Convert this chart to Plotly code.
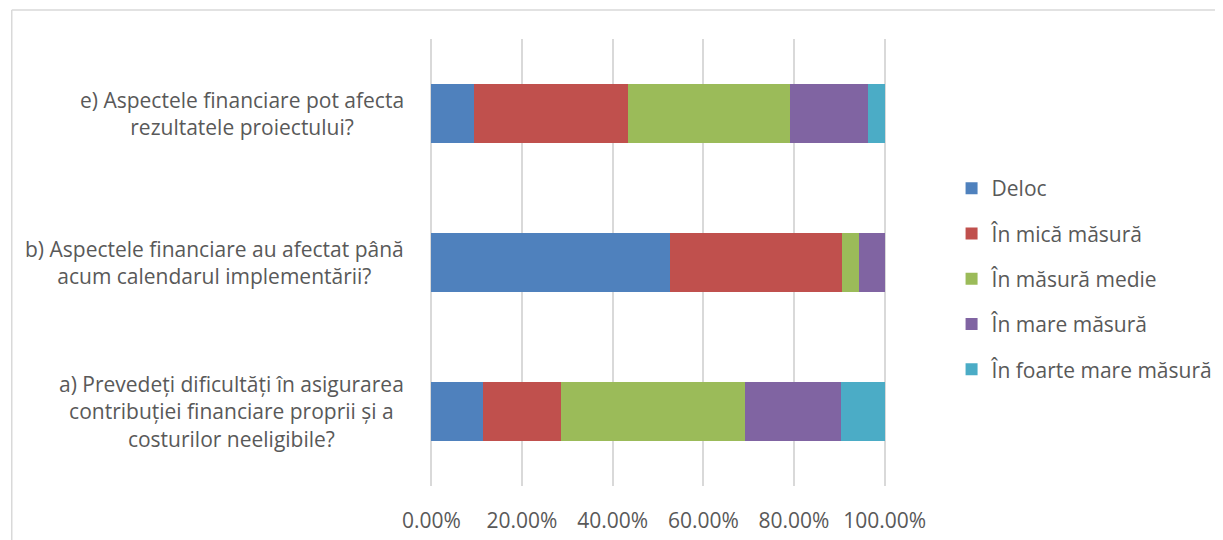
import plotly.graph_objects as go

# Data (percent of respondents)
categories = ["a", "b", "e"]
category_labels = [
    "a) Prevedeți dificultăți în asigurarea<br>contribuției financiare proprii și a<br>costurilor neeligibile?",
    "b) Aspectele financiare au afectat până<br>acum calendarul implementării?",
    "e) Aspectele financiare pot afecta<br>rezultatele proiectului?",
]
series_names = ["Deloc", "În mică măsură", "În măsură medie", "În mare măsură", "În foarte mare măsură"]
deloc = [11.3, 52.7, 9.3]
mica = [17.3, 37.8, 34.0]
medie = [40.5, 3.9, 35.9]
mare = [21.2, 5.6, 17.1]
foarte_mare = [9.7, 0.0, 3.7]
tick_values = [0, 20, 40, 60, 80, 100]
tick_labels = [f"{v:.2f}%" for v in tick_values]

colors = ["#4F81BD", "#C0504D", "#9BBB59", "#8064A2", "#4BACC6"]
all_series = [deloc, mica, medie, mare, foarte_mare]

W, H = 1223, 540
OFF = 8  # page body margin
L, R, T, B = 430 - OFF, 889 - OFF, 39 - OFF, 486 - OFF  # plot area in figure px
FONT = "Open Sans"
GREY = "#595959"


def px_x(px):
    return (px - OFF - L) / (R - L)


def px_y(py):
    return 1 - (py - OFF - T) / (B - T)


fig = go.Figure()
for i, (name, vals) in enumerate(zip(series_names, all_series)):
    fig.add_trace(go.Bar(
        y=categories, x=vals, name=name, orientation="h",
        marker=dict(color=colors[i], line=dict(width=0)),
        legendgroup=f"g{i}",
        hoverinfo="x+name",
    ))

for cat, lab in zip(categories, category_labels):
    fig.add_annotation(
        x=px_x(406), xref="paper", y=cat, yref="y",
        text=lab, showarrow=False, xanchor="right", yanchor="middle",
        align="center", font=dict(family=FONT, size=21, color=GREY),
    )

# chart-area frame (top and left edges visible)
fig.add_shape(type="line", xref="paper", yref="paper",
              x0=px_x(9), x1=px_x(1240), y0=px_y(10), y1=px_y(10),
              line=dict(color="#D9D9D9", width=1.5))
fig.add_shape(type="line", xref="paper", yref="paper",
              x0=px_x(9), x1=px_x(9), y0=px_y(10), y1=px_y(560),
              line=dict(color="#D9D9D9", width=1.5))

fig.update_layout(
    width=W, height=H,
    margin=dict(l=L, r=W - R, t=T, b=H - B, pad=0),
    barmode="stack", bargap=0.6,
    plot_bgcolor="white", paper_bgcolor="white",
    font=dict(family=FONT, size=21, color=GREY),
    legend=dict(
        x=px_x(955), xanchor="left", y=px_y(279), yanchor="middle",
        traceorder="grouped", tracegroupgap=15,
        font=dict(family=FONT, size=21, color=GREY),
        bgcolor="rgba(0,0,0,0)",
    ),
    xaxis=dict(
        range=[-0.3, 100.3], tickvals=tick_values, ticktext=tick_labels,
        showgrid=True, gridcolor="#D9D9D9", gridwidth=1.5,
        zeroline=False, showline=False,
        ticks="outside", ticklen=16, tickcolor="rgba(0,0,0,0)",
        tickfont=dict(family=FONT, size=21, color=GREY),
    ),
    yaxis=dict(
        categoryorder="array", categoryarray=categories,
        showticklabels=False, showgrid=False, zeroline=False, showline=False,
    ),
)

fig.write_html("out.html")
